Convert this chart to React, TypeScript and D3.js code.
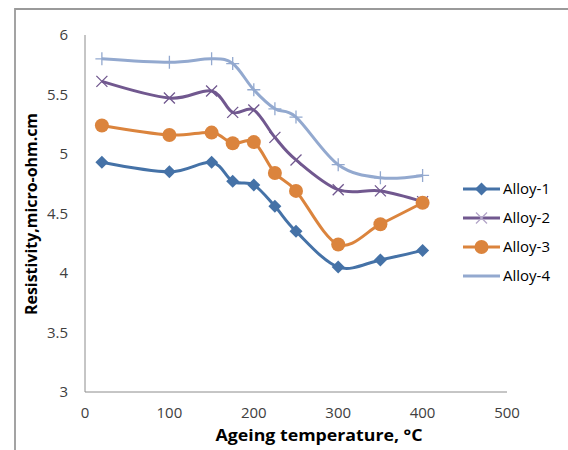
import React from "react";
import * as d3 from "d3";

const temps = [20, 100, 150, 175, 200, 225, 250, 300, 350, 400];
const alloy1 = [4.93, 4.85, 4.93, 4.77, 4.74, 4.56, 4.35, 4.05, 4.11, 4.19];
const alloy2 = [5.61, 5.47, 5.53, 5.35, 5.37, 5.14, 4.95, 4.7, 4.69, 4.6];
const alloy3 = [5.24, 5.16, 5.18, 5.09, 5.1, 4.84, 4.69, 4.24, 4.41, 4.59];
const alloy4 = [5.8, 5.77, 5.8, 5.76, 5.54, 5.38, 5.31, 4.91, 4.8, 4.82];
const seriesNames = ["Alloy-1", "Alloy-2", "Alloy-3", "Alloy-4"];
const xTicks = [0, 100, 200, 300, 400, 500];
const yTicks = [3, 3.5, 4, 4.5, 5, 5.5, 6];

const colors = ["#4572A7", "#71588F", "#DB843D", "#93A9CF"];
const markers = ["diamond", "x", "circle", "plus"];

const W = 568, H = 450;
const x = d3.scaleLinear().domain([0, 500]).range([85, 507]);
const y = d3.scaleLinear().domain([3, 6]).range([392, 35]);

function Marker({ type, cx, cy, color }: { type: string; cx: number; cy: number; color: string }) {
  if (type === "diamond") {
    const s = 6.5;
    return <path d={`M${cx},${cy - s}L${cx + s},${cy}L${cx},${cy + s}L${cx - s},${cy}Z`} fill={color} />;
  }
  if (type === "circle") return <circle cx={cx} cy={cy} r={7} fill={color} />;
  if (type === "x") {
    const s = 5.5;
    return (
      <path d={`M${cx - s},${cy - s}L${cx + s},${cy + s}M${cx - s},${cy + s}L${cx + s},${cy - s}`} stroke={color} strokeWidth={1.3} fill="none" />
    );
  }
  const s = 6.5;
  return <path d={`M${cx - s},${cy}L${cx + s},${cy}M${cx},${cy - s}L${cx},${cy + s}`} stroke={color} strokeWidth={1.3} fill="none" />;
}

export default function App() {
  const data = [alloy1, alloy2, alloy3, alloy4];
  const line = d3
    .line<number>()
    .x((_, i) => x(temps[i]))
    .y((d) => y(d))
    .curve(d3.curveCatmullRom.alpha(0));
  const font = "'Open Sans', 'Liberation Sans', Arial, sans-serif";
  const legendY = [189, 218, 247, 276];
  return (
    <div style={{ position: "fixed", left: 0, top: 0 }}>
      <svg width={W} height={H} style={{ display: "block", background: "#fff" }}>
        <path d={`M15,${H + 2}L15,9L${W + 2},9`} fill="none" stroke="#9a9a9a" strokeWidth={1.8} />
        <line x1={85} x2={85} y1={35} y2={392} stroke="#8c8c8c" strokeWidth={1} />
        <line x1={85} x2={507} y1={392} y2={392} stroke="#8c8c8c" strokeWidth={1} />
        {yTicks.map((t) => (
          <text key={t} x={68} y={y(t)} dy="0.35em" textAnchor="end" fontFamily={font} fontSize={15} fill="#404040">
            {t}
          </text>
        ))}
        {xTicks.map((t) => (
          <text key={t} x={x(t)} y={418} textAnchor="middle" fontFamily={font} fontSize={15} fill="#404040">
            {t}
          </text>
        ))}
        <text x={319} y={441} textAnchor="middle" fontFamily={font} fontSize={15.5} fontWeight="bold" fill="#000" textLength={207} lengthAdjust="spacingAndGlyphs">
          Ageing temperature, °C
        </text>
        <text
          transform={`translate(37,214) rotate(-90)`}
          textAnchor="middle"
          fontFamily={font}
          fontSize={15.5}
          fontWeight="bold"
          fill="#000"
          textLength={202}
          lengthAdjust="spacingAndGlyphs"
        >
          Resistivity,micro-ohm.cm
        </text>
        {data.map((vals, si) => (
          <g key={si}>
            <path d={line(vals) || ""} fill="none" stroke={colors[si]} strokeWidth={3} strokeLinejoin="round" />
            {vals.map((v, i) => (
              <Marker key={i} type={markers[si]} cx={x(temps[i])} cy={y(v)} color={colors[si]} />
            ))}
          </g>
        ))}
        {seriesNames.map((n, si) => (
          <g key={n}>
            <line x1={463} x2={500} y1={legendY[si]} y2={legendY[si]} stroke={colors[si]} strokeWidth={3} />
            {si < 3 && <Marker type={markers[si]} cx={481.5} cy={legendY[si]} color={si === 1 ? "#b3a6c8" : colors[si]} />}
            <text x={503} y={legendY[si]} dy="0.35em" fontFamily={font} fontSize={15} fill="#000">
              {n}
            </text>
          </g>
        ))}
      </svg>
    </div>
  );
}
